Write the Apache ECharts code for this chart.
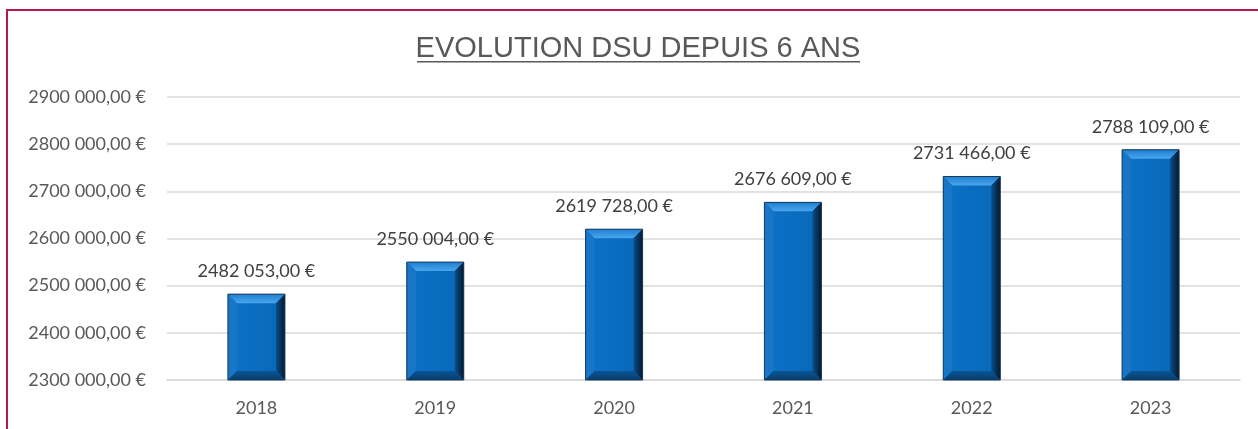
<!DOCTYPE html>
<html>
<head>
<meta charset="utf-8">
<script src="https://cdn.jsdelivr.net/npm/echarts@6/dist/echarts.min.js"></script>
<style>
  html, body { margin: 0; padding: 0; background: #fff; overflow: hidden; }
  .frame {
    position: absolute; left: 6px; top: 9px; width: 1300px; height: 500px;
    border: 2px solid #b5174f; box-sizing: border-box;
  }
  #chart { position: absolute; left: 0; top: 0; width: 1258px; height: 429px; }
</style>
</head>
<body>
<div class="frame"></div>
<div id="chart"></div>
<script>
// données
const years = ['2018', '2019', '2020', '2021', '2022', '2023'];
const dsuValues = [2482053, 2550004, 2619728, 2676609, 2731466, 2788109];
const yMin = 2300000;
const yMax = 2900000;
const yStep = 100000;

const BAR_W = 57;
const BEVEL = 9;

// 2482053 -> "2482 053,00 €"
function fmtEuro(v) {
  const k = Math.floor(v / 1000);
  const r = String(v % 1000).padStart(3, '0');
  return k + ' ' + r + ',00 €';
}

// biseaux des barres (effet relief)
function renderBevel(params, api) {
  const base = api.coord([api.value(0), yMin]);
  const top = api.coord([api.value(0), api.value(1)]);
  const x0 = base[0] - BAR_W / 2;
  const x1 = base[0] + BAR_W / 2;
  const y0 = top[1];
  const y1 = base[1];
  const b = BEVEL;
  return {
    type: 'group',
    children: [
      {
        type: 'polygon',
        shape: { points: [[x0, y0], [x1, y0], [x1 - b, y0 + b], [x0 + b, y0 + b]] },
        style: { fill: new echarts.graphic.LinearGradient(0, 0, 0, 1, [
          { offset: 0, color: '#1f7fd0' }, { offset: 1, color: '#4aa5ee' }]) },
      },
      {
        type: 'polygon',
        shape: { points: [[x0, y0], [x0 + b, y0 + b], [x0 + b, y1 - b], [x0, y1]] },
        style: { fill: '#1976c6' },
      },
      {
        type: 'polygon',
        shape: { points: [[x1, y0], [x1, y1], [x1 - b, y1 - b], [x1 - b, y0 + b]] },
        style: { fill: new echarts.graphic.LinearGradient(0, 0, 1, 0, [
          { offset: 0, color: '#0a4f8c' }, { offset: 1, color: '#05182b' }]) },
      },
      {
        type: 'polygon',
        shape: { points: [[x0, y1], [x1, y1], [x1 - b, y1 - b], [x0 + b, y1 - b]] },
        style: { fill: new echarts.graphic.LinearGradient(0, 0, 0, 1, [
          { offset: 0, color: '#0a5596' }, { offset: 1, color: '#073d6c' }]) },
      },
      {
        type: 'rect',
        shape: { x: x0, y: y0, width: BAR_W, height: y1 - y0 },
        style: { fill: 'none', stroke: '#173a5c', lineWidth: 1 },
      },
    ],
  };
}

const myChart = echarts.init(document.getElementById('chart'));
myChart.setOption({
  backgroundColor: 'transparent',
  animation: false,
  graphic: [
    {
      type: 'text',
      x: 638, y: 49,
      style: {
        text: 'EVOLUTION DSU DEPUIS 6 ANS',
        font: '29px "Liberation Sans", Arial, sans-serif',
        fill: '#595959',
        align: 'center',
        verticalAlign: 'middle',
      },
    },
    {
      type: 'rect',
      shape: { x: 417, y: 61, width: 443, height: 1.6 },
      style: { fill: '#595959' },
    },
  ],
  grid: { left: 167, right: 18, top: 97, bottom: 49 },
  xAxis: {
    type: 'category',
    data: years,
    axisLine: { lineStyle: { color: '#d9d9d9', width: 1.5 } },
    axisTick: { show: false },
    axisLabel: { color: '#595959', fontFamily: 'Lato', fontSize: 18, margin: 19 },
  },
  yAxis: {
    type: 'value',
    min: yMin,
    max: yMax,
    interval: yStep,
    axisLine: { show: false },
    axisTick: { show: false },
    splitLine: { lineStyle: { color: '#d9d9d9', width: 1.5 } },
    axisLabel: {
      color: '#595959', fontFamily: 'Lato', fontSize: 18, margin: 21,
      formatter: fmtEuro,
    },
  },
  series: [
    {
      type: 'bar',
      data: dsuValues,
      barWidth: BAR_W,
      itemStyle: {
        color: new echarts.graphic.LinearGradient(0, 0, 1, 0, [
          { offset: 0, color: '#0b72c6' },
          { offset: 1, color: '#0868b8' },
        ]),
      },
      label: {
        show: true,
        position: 'top',
        distance: 14,
        color: '#404040',
        fontFamily: 'Lato',
        fontSize: 18,
        formatter: (p) => fmtEuro(p.value),
      },
      z: 2,
    },
    {
      type: 'custom',
      data: dsuValues.map((v, i) => [i, v]),
      renderItem: renderBevel,
      silent: true,
      z: 3,
    },
  ],
});
</script>
</body>
</html>
